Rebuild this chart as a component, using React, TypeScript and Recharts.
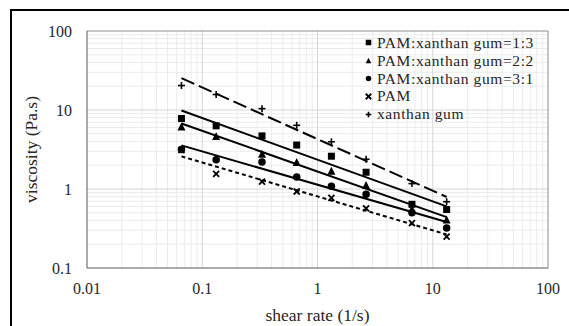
import React from "react";
import {
  ScatterChart,
  Scatter,
  XAxis,
  YAxis,
  ReferenceLine,
  Label,
} from "recharts";

// shear rate (1/s)
const shearRate = [0.066, 0.132, 0.33, 0.66, 1.32, 2.64, 6.6, 13.2];

// viscosity (Pa.s)
const visc13 = [7.8, 6.3, 4.7, 3.6, 2.6, 1.63, 0.64, 0.55];
const visc22 = [6.2, 4.7, 2.8, 2.2, 1.7, 1.12, 0.56, 0.41];
const visc31 = [3.16, 2.34, 2.2, 1.42, 1.08, 0.86, 0.5, 0.32];
const viscPAM = [3.1, 1.55, 1.24, 0.93, 0.77, 0.57, 0.37, 0.25];
const viscXG = [20.4, 15.7, 10.4, 6.4, 3.96, 2.38, 1.17, 0.69];

const xTicks = [0.01, 0.1, 1, 10, 100];
const yTicks = [0.1, 1, 10, 100];

const FONT = "'Liberation Serif', 'Times New Roman', serif";
const TEXT = "#262626";

function toPoints(ys: number[]) {
  return shearRate.map((x, i) => ({ x, y: ys[i] }));
}

// excel-style power trendline: straight fit in log-log space
function powerFit(ys: number[]) {
  const lx = shearRate.map(Math.log10);
  const ly = ys.map(Math.log10);
  const n = lx.length;
  const mx = lx.reduce((a, b) => a + b, 0) / n;
  const my = ly.reduce((a, b) => a + b, 0) / n;
  let sxy = 0;
  let sxx = 0;
  for (let i = 0; i < n; i++) {
    sxy += (lx[i] - mx) * (ly[i] - my);
    sxx += (lx[i] - mx) ** 2;
  }
  const b = sxy / sxx;
  const a = my - b * mx;
  const ends = [shearRate[0], shearRate[n - 1]];
  return ends.map((x) => ({ x, y: Math.pow(10, a + b * Math.log10(x)) }));
}

function minorValues(decades: number[]) {
  const out: number[] = [];
  decades.forEach((d) => {
    for (let k = 2; k <= 9; k++) out.push(d * k);
  });
  return out;
}

const xMinor = minorValues([0.01, 0.1, 1, 10]);
const yMinor = minorValues([0.1, 1, 10]);

const Square = ({ cx, cy, s = 7 }: any) => (
  <rect x={cx - s / 2} y={cy - s / 2} width={s} height={s} fill="#000" />
);
const Triangle = ({ cx, cy, s = 8 }: any) => (
  <polygon
    points={`${cx},${cy - s / 2} ${cx + s / 2},${cy + s / 2} ${cx - s / 2},${cy + s / 2}`}
    fill="#000"
  />
);
const Dot = ({ cx, cy, s = 7.5 }: any) => (
  <circle cx={cx} cy={cy} r={s / 2} fill="#000" />
);
const Cross = ({ cx, cy, s = 6 }: any) => (
  <g stroke="#000" strokeWidth={1.8}>
    <line x1={cx - s / 2} y1={cy - s / 2} x2={cx + s / 2} y2={cy + s / 2} />
    <line x1={cx - s / 2} y1={cy + s / 2} x2={cx + s / 2} y2={cy - s / 2} />
  </g>
);
const Plus = ({ cx, cy, s = 7 }: any) => (
  <g stroke="#000" strokeWidth={1.6}>
    <line x1={cx - s / 2} y1={cy} x2={cx + s / 2} y2={cy} />
    <line x1={cx} y1={cy - s / 2} x2={cx} y2={cy + s / 2} />
  </g>
);
const NoDot = () => <g />;

const series = [
  { name: "PAM:xanthan gum=1:3", values: visc13, Shape: Square, dash: undefined },
  { name: "PAM:xanthan gum=2:2", values: visc22, Shape: Triangle, dash: undefined },
  { name: "PAM:xanthan gum=3:1", values: visc31, Shape: Dot, dash: undefined },
  { name: "PAM", values: viscPAM, Shape: Cross, dash: "4 3" },
  { name: "xanthan gum", values: viscXG, Shape: Plus, dash: "14 5" },
];

function LegendBox() {
  return (
    <div
      style={{
        position: "absolute",
        left: 364,
        top: 34,
        fontFamily: FONT,
        fontSize: 15.5,
        letterSpacing: 0.6,
        color: TEXT,
        whiteSpace: "nowrap",
      }}
    >
      {series.map((s) => (
        <div
          key={s.name}
          style={{ display: "flex", alignItems: "center", height: 17.8, lineHeight: "17.8px" }}
        >
          <svg width={9} height={17} style={{ marginRight: 4 }}>
            <s.Shape cx={4.5} cy={8.5} s={5.5} />
          </svg>
          <span>{s.name}</span>
        </div>
      ))}
    </div>
  );
}

export default function App() {
  return (
    <div
      style={{
        position: "absolute",
        left: 0,
        top: 0,
        width: 569,
        height: 326,
        overflow: "hidden",
        background: "#fff",
      }}
    >
      <div
        style={{
          position: "absolute",
          left: 10,
          top: 9,
          width: 700,
          height: 500,
          border: "2px solid #000",
        }}
      />
      <ScatterChart
        width={569}
        height={326}
        margin={{ top: 31, right: 21, bottom: 0, left: 0 }}
      >
        <XAxis
          type="number"
          dataKey="x"
          scale="log"
          domain={[0.01, 100]}
          ticks={xTicks}
          allowDataOverflow
          height={58}
          tickSize={0}
          tickMargin={15}
          tickFormatter={(v: number) => String(v)}
          tick={{ fontFamily: FONT, fontSize: 16, fill: TEXT }}
          axisLine={{ stroke: "#595959", strokeWidth: 1 }}
        >
          <Label
            value="shear rate (1/s)"
            position="insideBottom"
            offset={5}
            style={{ fontFamily: FONT, fontSize: 17.5, fill: TEXT }}
          />
        </XAxis>
        <YAxis
          type="number"
          dataKey="y"
          scale="log"
          domain={[0.1, 100]}
          ticks={yTicks}
          allowDataOverflow
          width={87}
          tickSize={0}
          tickMargin={15}
          tickFormatter={(v: number) => String(v)}
          tick={{ fontFamily: FONT, fontSize: 16, fill: TEXT }}
          axisLine={{ stroke: "#595959", strokeWidth: 1 }}
        >
          <Label
            content={({ viewBox }: any) => {
              const x = viewBox.x + 31;
              const y = viewBox.y + viewBox.height / 2;
              return (
                <text
                  x={x}
                  y={y}
                  transform={`rotate(-90 ${x} ${y})`}
                  textAnchor="middle"
                  dominantBaseline="central"
                  style={{ fontFamily: FONT, fontSize: 17.5, fill: TEXT }}
                >
                  viscosity (Pa.s)
                </text>
              );
            }}
          />
        </YAxis>

        {xMinor.map((v) => (
          <ReferenceLine key={`xm${v}`} x={v} stroke="#ebebeb" strokeWidth={1} />
        ))}
        {yMinor.map((v) => (
          <ReferenceLine key={`ym${v}`} y={v} stroke="#ebebeb" strokeWidth={1} />
        ))}
        {xTicks.slice(1, -1).map((v) => (
          <ReferenceLine key={`xM${v}`} x={v} stroke="#d6d6d6" strokeWidth={1} />
        ))}
        {yTicks.slice(1, -1).map((v) => (
          <ReferenceLine key={`yM${v}`} y={v} stroke="#d6d6d6" strokeWidth={1} />
        ))}
        <ReferenceLine x={100} stroke="#8c8c8c" strokeWidth={1} />
        <ReferenceLine y={100} stroke="#8c8c8c" strokeWidth={1} />

        {series.map((s) => (
          <Scatter
            key={`fit-${s.name}`}
            data={powerFit(s.values)}
            line={{ stroke: "#000", strokeWidth: 2, strokeDasharray: s.dash }}
            shape={NoDot}
            legendType="none"
            isAnimationActive={false}
          />
        ))}
        {series.map((s) => (
          <Scatter
            key={s.name}
            name={s.name}
            data={toPoints(s.values)}
            shape={(p: any) => <s.Shape cx={p.cx} cy={p.cy} />}
            isAnimationActive={false}
          />
        ))}
      </ScatterChart>
      <LegendBox />
    </div>
  );
}
